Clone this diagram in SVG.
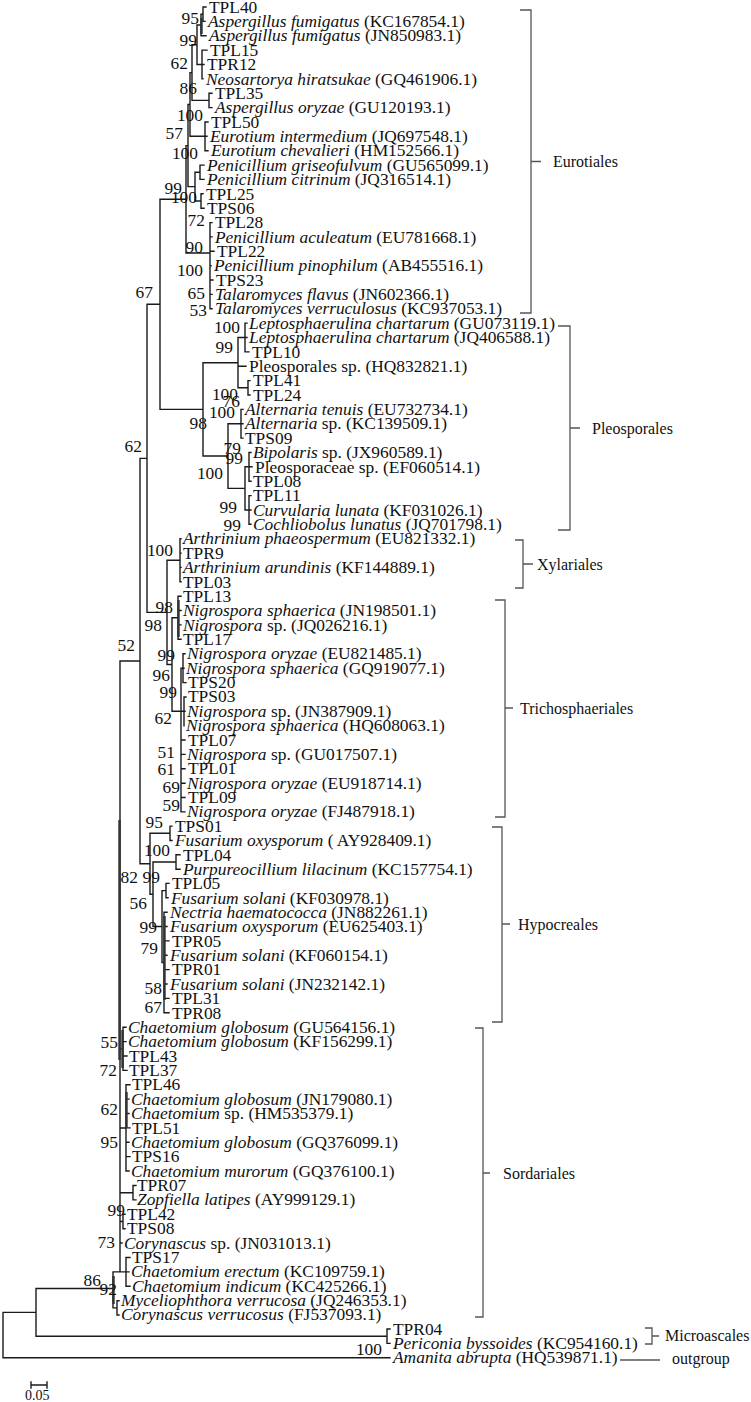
<svg xmlns="http://www.w3.org/2000/svg" width="751" height="1402" viewBox="0 0 751 1402">
<style>
.t{font-family:"Liberation Serif","Times New Roman",serif;font-size:17.4px;fill:#111}
.i{font-style:italic}
.b{font-family:"Liberation Serif","Times New Roman",serif;font-size:17.4px;fill:#111;text-anchor:end}
.o{font-family:"Liberation Serif","Times New Roman",serif;font-size:16px;fill:#111}
.ln{fill:none;stroke:#1a1a1a;stroke-width:1.4;stroke-linecap:square}
.th{fill:none;stroke:#333;stroke-width:2.4}
.br{fill:none;stroke:#555;stroke-width:1.3}
</style>
<rect width="751" height="1402" fill="#fff"/>
<g id="connectors">
<path class="ln" d="M203,7V21.4M203,7H206M203,21.4H205
M201,14.2V35.7M201,14.2H203M201,35.7H206
M202,50.1V78.9M202,50.1H207M202,64.5H204M202,78.9H203
M197,25V64.5M197,25H201M197,64.5H202
M209,93.2V107.6M209,93.2H212M209,107.6H212
M192,44.7V100.4M192,44.7H197M192,100.4H209
M205,122V150.7M205,122H208M205,136.3H207M205,150.7H208
M190,72.6V136.3M190,72.6H192M190,136.3H205
M200,165.1V179.4M200,165.1H204M200,179.4H204
M201,193.8V208.2M201,193.8H203M201,208.2H204
M195,172.3V201M195,172.3H200M195,201H201
M188,104.5V186.6M188,104.5H190M188,186.6H195
M210,222.6V308.8M210,222.6H212M210,236.9H212M210,251.3H214M210,265.7H211M210,280H213M210,294.4H212M210,308.8H212
M186,145.6V253M186,145.6H188M186,253H210
M160,199.3H186
M245,323.1V351.9M245,323.1H247M245,337.5H247M245,351.9H249
M248,380.6V395M248,380.6H250M248,395H250
M238,337.5V387.8M238,337.5H245M238,366.2H246M238,387.8H248
M241,409.4V438.1M241,409.4H243M241,423.7H243M241,438.1H243
M249,452.5V481.2M249,452.5H251M249,466.8H252M249,481.2H251
M249,495.6V524.3M249,495.6H251M249,510H251M249,524.3H251
M245,466.8V510M245,466.8H249M245,510H249
M228,423.7V488.4M228,423.7H241M228,488.4H245
M203,362.7V456M203,362.7H238M203,456H228
M160,409.4H203
M160,199.3V409.4M147,304.3H160
M180,538.7V581.8M180,538.7H181M180,553.1H181M180,567.4H181M180,581.8H181
M178,596.2V639.3M178,596.2H181M178,610.5H181M178,624.9H181M178,639.3H181
M183,653.8V682.6M183,653.8H185M183,668.2H184M183,682.6H186
M184,697V725.7M184,697H186M184,711.3H185M184,725.7H184
M181,668.2V811.9M181,668.2H183M181,711.3H184M181,740H185M181,754.4H185M181,768.8H185M181,783.2H185M181,797.5H185M181,811.9H185
M172,617.7V711.3M172,617.7H178M172,711.3H181
M167,560.3V664.5M167,560.3H180M167,664.5H172
M147,304.3V612.4M147,612.4H167
M170,826.1V840.5M170,826.1H172M170,840.5H172
M176,854.8V869.2M176,854.8H180M176,869.2H180
M166,883.4V897.8M166,883.4H169M166,897.8H168
M164,912.2V1012.8M164,912.2H167M164,926.5H167M164,940.9H169M164,955.3H167M164,969.6H169M164,984H167M164,998.4H169M164,1012.8H169
M162,890.6V962.5M162,890.6H166M162,962.5H164
M153,862V926.5M153,862H176M153,926.5H162
M150,833.3V894.3M150,833.3H170M150,894.3H153
M140,458.4V863.8M140,458.4H147M140,863.8H150
M120,661H140
M120,661V1271.9
M123,1027.3V1070.4M120,1048.9H123M123,1027.3H126M123,1041.6H126M123,1056H127M123,1070.4H127
M126,1084.8V1171M120,1128H126M126,1084.8H130M126,1099.1H129M126,1113.5H129M126,1127.9H130M126,1142.2H129M126,1156.6H130M126,1171H129
M133,1185.5V1199.9M120,1192.7H133M133,1185.5H136M133,1199.9H136
M123,1214.3V1228.7M120,1221.5H123M123,1214.3H125M123,1228.7H125
M120,1243H122
M126,1257.5V1286.3M113,1271.9H126M126,1257.5H130M126,1271.9H129M126,1286.3H130
M113,1271.9V1307.9M36,1288.5H113
M117,1300.7V1315M113,1307.9H117M117,1300.7H119M117,1315H119
M36,1288.5V1336.2M36,1336.2H387
M387,1329V1343.4M387,1329H390M387,1343.4H390
M3,1312.4V1357.8M3,1312.4H36M3,1357.8H390"/>
<path class="th" d="M201.5,18V34M178.5,600V637M164.5,916V1000M119.5,820V1060M126.5,1092V1128M122.5,1030V1068M113.5,1276V1304"/>
</g>
<g id="leaves">
<g id="n1"><text class="t" x="209" y="12.7">TPL40</text></g>
<g id="n2"><text class="t" x="208" y="27.07"><tspan class="i">Aspergillus fumigatus</tspan> (KC167854.1)</text></g>
<g id="n3"><text class="t" x="209" y="41.44"><tspan class="i">Aspergillus fumigatus</tspan> (JN850983.1)</text></g>
<g id="n4"><text class="t" x="210" y="55.81">TPL15</text></g>
<g id="n5"><text class="t" x="207" y="70.18">TPR12</text></g>
<g id="n6"><text class="t" x="206" y="84.55"><tspan class="i">Neosartorya hiratsukae</tspan> (GQ461906.1)</text></g>
<g id="n7"><text class="t" x="215" y="98.92">TPL35</text></g>
<g id="n8"><text class="t" x="215" y="113.29"><tspan class="i">Aspergillus oryzae</tspan> (GU120193.1)</text></g>
<g id="n9"><text class="t" x="211" y="127.66">TPL50</text></g>
<g id="n10"><text class="t" x="210" y="142.03"><tspan class="i">Eurotium intermedium</tspan> (JQ697548.1)</text></g>
<g id="n11"><text class="t" x="211" y="156.4"><tspan class="i">Eurotium chevalieri</tspan> (HM152566.1)</text></g>
<g id="n12"><text class="t" x="207" y="170.77"><tspan class="i">Penicillium griseofulvum</tspan> (GU565099.1)</text></g>
<g id="n13"><text class="t" x="207" y="185.14"><tspan class="i">Penicillium citrinum</tspan> (JQ316514.1)</text></g>
<g id="n14"><text class="t" x="206" y="199.51">TPL25</text></g>
<g id="n15"><text class="t" x="207" y="213.88">TPS06</text></g>
<g id="n16"><text class="t" x="215" y="228.25">TPL28</text></g>
<g id="n17"><text class="t" x="215" y="242.62"><tspan class="i">Penicillium aculeatum</tspan> (EU781668.1)</text></g>
<g id="n18"><text class="t" x="217" y="256.99">TPL22</text></g>
<g id="n19"><text class="t" x="214" y="271.36"><tspan class="i">Penicillium pinophilum</tspan> (AB455516.1)</text></g>
<g id="n20"><text class="t" x="216" y="285.73">TPS23</text></g>
<g id="n21"><text class="t" x="215" y="300.1"><tspan class="i">Talaromyces flavus</tspan> (JN602366.1)</text></g>
<g id="n22"><text class="t" x="215" y="314.47"><tspan class="i">Talaromyces verruculosus</tspan> (KC937053.1)</text></g>
<g id="n23"><text class="t" x="249" y="328.84"><tspan class="i">Leptosphaerulina chartarum</tspan> (GU073119.1)</text></g>
<g id="n24"><text class="t" x="249" y="343.21"><tspan class="i">Leptosphaerulina chartarum</tspan> (JQ406588.1)</text></g>
<g id="n25"><text class="t" x="252" y="357.58">TPL10</text></g>
<g id="n26"><text class="t" x="249" y="371.95">Pleosporales sp. (HQ832821.1)</text></g>
<g id="n27"><text class="t" x="253" y="386.32">TPL41</text></g>
<g id="n28"><text class="t" x="253" y="400.69">TPL24</text></g>
<g id="n29"><text class="t" x="245" y="415.06"><tspan class="i">Alternaria tenuis</tspan> (EU732734.1)</text></g>
<g id="n30"><text class="t" x="245" y="429.43"><tspan class="i">Alternaria</tspan> sp. (KC139509.1)</text></g>
<g id="n31"><text class="t" x="245" y="443.8">TPS09</text></g>
<g id="n32"><text class="t" x="253" y="458.17"><tspan class="i">Bipolaris</tspan> sp. (JX960589.1)</text></g>
<g id="n33"><text class="t" x="255" y="472.54">Pleosporaceae sp. (EF060514.1)</text></g>
<g id="n34"><text class="t" x="253" y="486.91">TPL08</text></g>
<g id="n35"><text class="t" x="253" y="501.28">TPL11</text></g>
<g id="n36"><text class="t" x="253" y="515.65"><tspan class="i">Curvularia lunata</tspan> (KF031026.1)</text></g>
<g id="n37"><text class="t" x="253" y="530.02"><tspan class="i">Cochliobolus lunatus</tspan> (JQ701798.1)</text></g>
<g id="n38"><text class="t" x="183" y="544.39"><tspan class="i">Arthrinium phaeospermum</tspan> (EU821332.1)</text></g>
<g id="n39"><text class="t" x="183" y="558.76">TPR9</text></g>
<g id="n40"><text class="t" x="183" y="573.13"><tspan class="i">Arthrinium arundinis</tspan> (KF144889.1)</text></g>
<g id="n41"><text class="t" x="183" y="587.5">TPL03</text></g>
<g id="n42"><text class="t" x="183" y="601.87">TPL13</text></g>
<g id="n43"><text class="t" x="183" y="616.24"><tspan class="i">Nigrospora sphaerica</tspan> (JN198501.1)</text></g>
<g id="n44"><text class="t" x="183" y="630.61"><tspan class="i">Nigrospora</tspan> sp. (JQ026216.1)</text></g>
<g id="n45"><text class="t" x="183" y="644.98">TPL17</text></g>
<g id="n46"><text class="t" x="187" y="659.35"><tspan class="i">Nigrospora oryzae</tspan> (EU821485.1)</text></g>
<g id="n47"><text class="t" x="186" y="673.72"><tspan class="i">Nigrospora sphaerica</tspan> (GQ919077.1)</text></g>
<g id="n48"><text class="t" x="188" y="688.09">TPS20</text></g>
<g id="n49"><text class="t" x="188" y="702.46">TPS03</text></g>
<g id="n50"><text class="t" x="187" y="716.83"><tspan class="i">Nigrospora</tspan> sp. (JN387909.1)</text></g>
<g id="n51"><text class="t" x="186" y="731.2"><tspan class="i">Nigrospora sphaerica</tspan> (HQ608063.1)</text></g>
<g id="n52"><text class="t" x="188" y="745.57">TPL07</text></g>
<g id="n53"><text class="t" x="187" y="759.94"><tspan class="i">Nigrospora</tspan> sp. (GU017507.1)</text></g>
<g id="n54"><text class="t" x="188" y="774.31">TPL01</text></g>
<g id="n55"><text class="t" x="187" y="788.68"><tspan class="i">Nigrospora oryzae</tspan> (EU918714.1)</text></g>
<g id="n56"><text class="t" x="188" y="803.05">TPL09</text></g>
<g id="n57"><text class="t" x="187" y="817.42"><tspan class="i">Nigrospora oryzae</tspan> (FJ487918.1)</text></g>
<g id="n58"><text class="t" x="175" y="831.79">TPS01</text></g>
<g id="n59"><text class="t" x="175" y="846.16"><tspan class="i">Fusarium oxysporum</tspan> ( AY928409.1)</text></g>
<g id="n60"><text class="t" x="183" y="860.53">TPL04</text></g>
<g id="n61"><text class="t" x="183" y="874.9"><tspan class="i">Purpureocillium lilacinum</tspan> (KC157754.1)</text></g>
<g id="n62"><text class="t" x="172" y="889.27">TPL05</text></g>
<g id="n63"><text class="t" x="171" y="903.64"><tspan class="i">Fusarium solani</tspan> (KF030978.1)</text></g>
<g id="n64"><text class="t" x="170" y="918.01"><tspan class="i">Nectria haematococca</tspan> (JN882261.1)</text></g>
<g id="n65"><text class="t" x="170" y="932.38"><tspan class="i">Fusarium oxysporum</tspan> (EU625403.1)</text></g>
<g id="n66"><text class="t" x="172" y="946.75">TPR05</text></g>
<g id="n67"><text class="t" x="170" y="961.12"><tspan class="i">Fusarium solani</tspan> (KF060154.1)</text></g>
<g id="n68"><text class="t" x="172" y="975.49">TPR01</text></g>
<g id="n69"><text class="t" x="170" y="989.86"><tspan class="i">Fusarium solani</tspan> (JN232142.1)</text></g>
<g id="n70"><text class="t" x="172" y="1004.23">TPL31</text></g>
<g id="n71"><text class="t" x="172" y="1018.6">TPR08</text></g>
<g id="n72"><text class="t" x="128" y="1032.97"><tspan class="i">Chaetomium globosum</tspan> (GU564156.1)</text></g>
<g id="n73"><text class="t" x="128" y="1047.34"><tspan class="i">Chaetomium globosum</tspan> (KF156299.1)</text></g>
<g id="n74"><text class="t" x="129" y="1061.71">TPL43</text></g>
<g id="n75"><text class="t" x="129" y="1076.08">TPL37</text></g>
<g id="n76"><text class="t" x="132" y="1090.45">TPL46</text></g>
<g id="n77"><text class="t" x="131" y="1104.82"><tspan class="i">Chaetomium globosum</tspan> (JN179080.1)</text></g>
<g id="n78"><text class="t" x="131" y="1119.19"><tspan class="i">Chaetomium</tspan> sp. (HM535379.1)</text></g>
<g id="n79"><text class="t" x="132" y="1133.56">TPL51</text></g>
<g id="n80"><text class="t" x="131" y="1147.93"><tspan class="i">Chaetomium globosum</tspan> (GQ376099.1)</text></g>
<g id="n81"><text class="t" x="132" y="1162.3">TPS16</text></g>
<g id="n82"><text class="t" x="131" y="1176.67"><tspan class="i">Chaetomium murorum</tspan> (GQ376100.1)</text></g>
<g id="n83"><text class="t" x="137" y="1191.04">TPR07</text></g>
<g id="n84"><text class="t" x="137" y="1205.41"><tspan class="i">Zopfiella latipes</tspan> (AY999129.1)</text></g>
<g id="n85"><text class="t" x="127" y="1219.78">TPL42</text></g>
<g id="n86"><text class="t" x="127" y="1234.15">TPS08</text></g>
<g id="n87"><text class="t" x="124" y="1248.52"><tspan class="i">Corynascus</tspan> sp. (JN031013.1)</text></g>
<g id="n88"><text class="t" x="132" y="1262.89">TPS17</text></g>
<g id="n89"><text class="t" x="131" y="1277.26"><tspan class="i">Chaetomium erectum</tspan> (KC109759.1)</text></g>
<g id="n90"><text class="t" x="132" y="1291.63"><tspan class="i">Chaetomium indicum</tspan> (KC425266.1)</text></g>
<g id="n91"><text class="t" x="121" y="1306"><tspan class="i">Myceliophthora verrucosa</tspan> (JQ246353.1)</text></g>
<g id="n92"><text class="t" x="121" y="1320.37"><tspan class="i">Corynascus verrucosus</tspan> (FJ537093.1)</text></g>
<g id="n93"><text class="t" x="393" y="1334.74">TPR04</text></g>
<g id="n94"><text class="t" x="393" y="1349.11"><tspan class="i">Periconia byssoides</tspan> (KC954160.1)</text></g>
<g id="n95"><text class="t" x="393" y="1363.48"><tspan class="i">Amanita abrupta</tspan> (HQ539871.1)</text></g>
</g>
<g id="bootstrap">
<text class="b" x="199" y="24">95</text>
<text class="b" x="197" y="46">99</text>
<text class="b" x="188" y="69">62</text>
<text class="b" x="197" y="94">86</text>
<text class="b" x="203" y="121">100</text>
<text class="b" x="183" y="139">57</text>
<text class="b" x="198" y="159">100</text>
<text class="b" x="182" y="194">99</text>
<text class="b" x="197" y="203">100</text>
<text class="b" x="205" y="226">72</text>
<text class="b" x="203" y="253">90</text>
<text class="b" x="203" y="276">100</text>
<text class="b" x="205" y="299">65</text>
<text class="b" x="207" y="316">53</text>
<text class="b" x="153" y="298">67</text>
<text class="b" x="240" y="333">100</text>
<text class="b" x="233" y="353">99</text>
<text class="b" x="238" y="400">100</text>
<text class="b" x="240" y="407">76</text>
<text class="b" x="235" y="418">100</text>
<text class="b" x="207" y="429">98</text>
<text class="b" x="241" y="454">79</text>
<text class="b" x="243" y="464">99</text>
<text class="b" x="223" y="479">100</text>
<text class="b" x="237" y="513">99</text>
<text class="b" x="241" y="531">99</text>
<text class="b" x="142" y="452">62</text>
<text class="b" x="173" y="556">100</text>
<text class="b" x="173" y="613">98</text>
<text class="b" x="162" y="631">98</text>
<text class="b" x="135" y="651">52</text>
<text class="b" x="175" y="661">99</text>
<text class="b" x="170" y="681">96</text>
<text class="b" x="177" y="698">99</text>
<text class="b" x="172" y="724">62</text>
<text class="b" x="175" y="758">51</text>
<text class="b" x="175" y="775">61</text>
<text class="b" x="180" y="793">69</text>
<text class="b" x="180" y="811">59</text>
<text class="b" x="163" y="828">95</text>
<text class="b" x="170" y="856">100</text>
<text class="b" x="138" y="883">82</text>
<text class="b" x="160" y="883">99</text>
<text class="b" x="147" y="909">56</text>
<text class="b" x="157" y="933">99</text>
<text class="b" x="158" y="954">79</text>
<text class="b" x="162" y="994">58</text>
<text class="b" x="162" y="1013">67</text>
<text class="b" x="118" y="1048">55</text>
<text class="b" x="117" y="1076">72</text>
<text class="b" x="118" y="1115">62</text>
<text class="b" x="118" y="1148">95</text>
<text class="b" x="125" y="1216">99</text>
<text class="b" x="115" y="1248">73</text>
<text class="b" x="101" y="1286">86</text>
<text class="b" x="117" y="1295">92</text>
<text class="b" x="382" y="1355">100</text>
</g>
<g id="order-eurotiales"><path class="br" d="M520,10H531V313H520M531,161.5H541"/><text class="o" x="553" y="167">Eurotiales</text></g>
<g id="order-pleosporales"><path class="br" d="M558,326H570V530H558M570,428H580"/><text class="o" x="592" y="434">Pleosporales</text></g>
<g id="order-xylariales"><path class="br" d="M515,540H523V588H515M523,564H533"/><text class="o" x="537" y="570">Xylariales</text></g>
<g id="order-trichosphaeriales"><path class="br" d="M495,600H505V817H495M505,708H513"/><text class="o" x="520" y="714">Trichosphaeriales</text></g>
<g id="order-hypocreales"><path class="br" d="M492,827H502V1022H492M502,924H510"/><text class="o" x="518" y="930">Hypocreales</text></g>
<g id="order-sordariales"><path class="br" d="M475,1028H483V1317H475M483,1173H490"/><text class="o" x="503" y="1179">Sordariales</text></g>
<g id="order-microascales"><path class="br" d="M645,1328H652V1344H645M652,1336H659"/><text class="o" x="665" y="1341">Microascales</text></g>
<g id="outgroup"><path class="br" d="M620,1360H660"/><text class="o" x="672" y="1364">outgroup</text></g>
<g id="scale"><path class="ln" d="M31,1385H47M31,1382V1388M47,1382V1388"/><text class="t" x="25" y="1400" style="font-size:14px">0.05</text></g>
</svg>
